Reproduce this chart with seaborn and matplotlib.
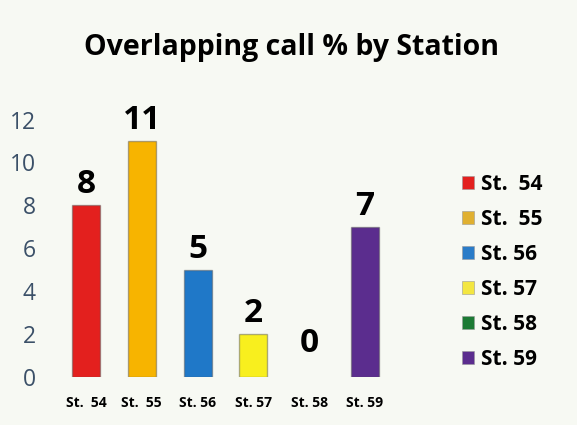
import pandas as pd
import matplotlib.pyplot as plt
import seaborn as sns
from matplotlib.patches import Patch

stations = ["St.  54", "St.  55", "St. 56", "St. 57", "St. 58", "St. 59"]
overlap_pct = [8, 11, 5, 2, 0, 7]
colors = ["#e3201e", "#f7b400", "#1f78c8", "#f8ef1e", "#1c7a34", "#5b2d8e"]
legend_colors = ["#e3201e", "#e0b030", "#2a7cc8", "#f3e640", "#1c7a34", "#5b2d8e"]

table = pd.DataFrame({"station": stations, "pct": overlap_pct})

bg = "#f7f9f3"
sns.set_style("white")
plt.rcParams["font.family"] = ["Open Sans", "DejaVu Sans"]
plt.rcParams["text.color"] = "black"

fig = plt.figure(figsize = (5.77, 4.25), dpi = 100, facecolor = bg)
axis = fig.add_axes([0.1005, 0.113, 0.5805, 0.631])
axis.set_facecolor(bg)

sns.barplot( data = table
           , x = "station"
           , y = "pct"
           , hue = "station"
           , palette = colors
           , saturation = 1
           , dodge = False
           , width = 0.5
           , legend = False
           , edgecolor = "#55555577"
           , linewidth = 1
           , ax = axis
)

for container, value in zip(axis.containers, overlap_pct):
    if value == 0:
        container.patches[0].set_linewidth(0)
    axis.bar_label( container
                  , fontsize = 24
                  , fontweight = "bold"
                  , color = "black"
                  , padding = 12 if value == 0 else 3
    )

axis.set_ylim(0, 12.5)
axis.set_yticks(range(0, 13, 2))
axis.set(xlabel = "", ylabel = "")
sns.despine(ax = axis, left = True, bottom = True)
axis.tick_params(axis = "y", length = 0, labelsize = 16.5, labelcolor = "#3b5068", pad = 16)
axis.tick_params(axis = "x", length = 0, labelsize = 10, labelcolor = "black", pad = 14)
for xlabel in axis.get_xticklabels():
    xlabel.set_fontweight("bold")

fig.text(0.505, 0.888, "Overlapping call % by Station",
         ha = "center", va = "center", fontsize = 20.5, fontweight = "bold")

handles = [Patch(facecolor = c, edgecolor = "#999999", linewidth = 0.4) for c in legend_colors]
fig.legend( handles, stations
          , loc = "center left"
          , bbox_to_anchor = (0.768, 0.36)
          , frameon = False
          , handlelength = 0.6
          , handleheight = 0.6
          , handletextpad = 0.3
          , labelspacing = 0.67
          , prop = {"weight": "bold", "size": 15}
)

fig.savefig("out.png", facecolor = bg)
